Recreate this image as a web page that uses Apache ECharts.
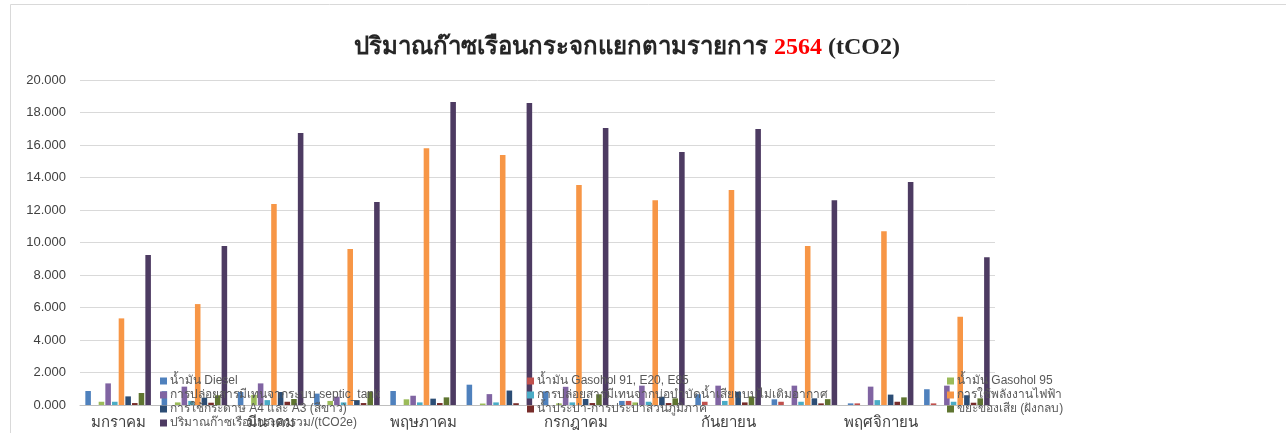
<!DOCTYPE html>
<html>
<head>
<meta charset="utf-8">
<script src="https://cdn.jsdelivr.net/npm/echarts@6/dist/echarts.min.js"></script>
<style>html,body{margin:0;padding:0;background:#fff;}#c{width:1286px;height:433px;}</style>
</head>
<body>
<div id="c"></div>
<script>
const months = ['มกราคม','กุมภาพันธ์','มีนาคม','เมษายน','พฤษภาคม','มิถุนายน','กรกฎาคม','สิงหาคม','กันยายน','ตุลาคม','พฤศจิกายน','ธันวาคม'];
const yTicks = [0,2,4,6,8,10,12,14,16,18,20];
const diesel      = [0.86,0.85,0.80,0.70,0.86,1.25,0.84,0.25,0.66,0.35,0.10,0.97];
const gasohol91   = [0,0,0,0,0,0,0,0.25,0.20,0.20,0.10,0.10];
const gasohol95   = [0.20,0.16,0.62,0.25,0.35,0.09,0.10,0.16,0,0,0,0];
const septic      = [1.33,1.13,1.33,0.51,0.57,0.67,1.12,1.19,1.19,1.19,1.13,1.19];
const pond        = [0.20,0.25,0.30,0.16,0.16,0.16,0.16,0.20,0.25,0.20,0.30,0.20];
const electricity = [5.33,6.21,12.37,9.60,15.80,15.38,13.54,12.60,13.23,9.78,10.70,5.43];
const paper       = [0.53,0.45,0.80,0.30,0.39,0.89,0.37,0.51,0.82,0.41,0.64,0.60];
const water       = [0.12,0.14,0.20,0.12,0.12,0.11,0.12,0.12,0.16,0.10,0.20,0.14];
const waste       = [0.74,0.60,0.37,0.82,0.47,0,0.66,0.41,0.53,0.36,0.47,0.41];
const total       = [9.23,9.78,16.74,12.49,18.65,18.58,17.05,15.57,16.98,12.60,13.72,9.09];

const names = ['น้ำมัน Diesel','น้ำมัน Gasohol 91, E20, E85','น้ำมัน Gasohol 95',
  'การปล่อยสารมีเทนจากระบบ septic_tank','การปล่อยสารมีเทนจากบ่อบำบัดน้ำเสียแบบไม่เติมอากาศ','การใช้พลังงานไฟฟ้า',
  'การใช้กระดาษ A4 และ A3 (สีขาว)','น้ำประปา-การประปาส่วนภูมิภาค','ขยะของเสีย (ฝังกลบ)',
  'ปริมาณก๊าซเรือนกระจกรวม/(tCO2e)'];
const seriesData = [diesel,gasohol91,gasohol95,septic,pond,electricity,paper,water,waste,total];
const colors = ['#4F81BD','#C0504D','#9BBB59','#8064A2','#4BACC6','#F79646','#2C4D75','#772C2A','#5F7530','#4D3B62'];

const legendBase = {
  orient:'vertical', itemWidth:7, itemHeight:7, itemGap:0, icon:'rect',
  textStyle:{fontSize:12, color:'#595959', lineHeight:14, padding:[0,0,0,-2]}, padding:0
};

const chart = echarts.init(document.getElementById('c'));
chart.setOption({
  animation:false,
  color: colors,
  graphic:[{type:'rect', shape:{x:10.5,y:4.5,width:1300,height:460}, style:{fill:'none', stroke:'#d9d9d9', lineWidth:1}, silent:true}],
  title:{
    left:622, top:31, textAlign:'center',
    text:'{a|ปริมาณก๊าซเรือนกระจกแยกตามรายการ }{b|2564}{a| (tCO2)}',
    textStyle:{rich:{
      a:{fontFamily:'Liberation Serif, serif', fontSize:24, fontWeight:'bold', color:'#262626'},
      b:{fontFamily:'Liberation Serif, serif', fontSize:24, fontWeight:'bold', color:'#FF0000'}
    }}
  },
  legend:[
    Object.assign({left:160, top:374, data:[names[0],names[3],names[6],names[9]]}, legendBase),
    Object.assign({left:527, top:374, data:[names[1],names[4],names[7]]}, legendBase),
    Object.assign({left:947, top:374, data:[names[2],names[5],names[8]]}, legendBase)
  ],
  grid:{left:80, right:291, top:80, bottom:28, containLabel:false},
  xAxis:{
    type:'category', data:months,
    axisLine:{lineStyle:{color:'#bfbfbf'}}, axisTick:{show:false},
    axisLabel:{interval:1, fontSize:15, color:'#404040', margin:10}
  },
  yAxis:{
    type:'value', min:yTicks[0], max:yTicks[yTicks.length-1], interval:2,
    axisLine:{show:false}, axisTick:{show:false},
    splitLine:{lineStyle:{color:'#d9d9d9'}},
    axisLabel:{fontSize:13, color:'#404040', margin:14, formatter:v=>v.toFixed(3)}
  },
  series: seriesData.map((d,i)=>({
    name:names[i], type:'bar', data:d, barGap:'20%', barCategoryGap:'14%'
  }))
});
</script>
</body>
</html>
